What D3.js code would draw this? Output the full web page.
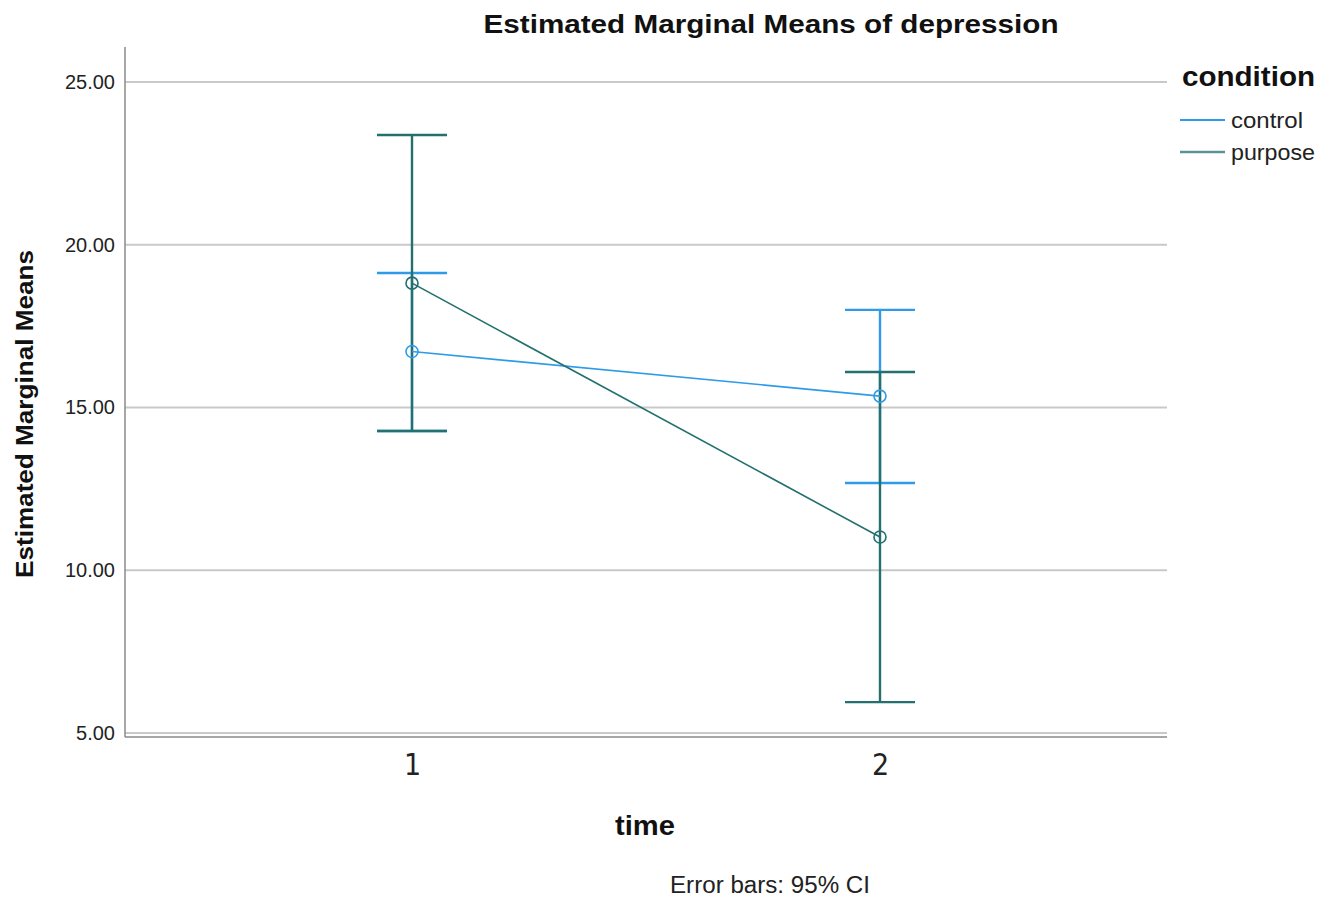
<!DOCTYPE html>
<html><head><meta charset="utf-8">
<script src="https://cdn.jsdelivr.net/npm/d3@7"></script>
<style>body{margin:0;background:#fff}svg{display:block}</style>
</head><body>
<svg id="c" width="1323" height="899"></svg>
<script>
const times = ["1", "2"];
const seriesNames = ["control", "purpose"];
const controlMean = [16.72, 15.35];
const controlLower = [14.28, 12.68];
const controlUpper = [19.13, 18.00];
const purposeMean = [18.82, 11.02];
const purposeLower = [14.28, 5.95];
const purposeUpper = [23.37, 16.09];
const yTicks = [5, 10, 15, 20, 25];
const colors = {control: "#2f9be8", purpose: "#23706f"};

const series = [
  {name: "control", mean: controlMean, lo: controlLower, hi: controlUpper},
  {name: "purpose", mean: purposeMean, lo: purposeLower, hi: purposeUpper}
];

const svg = d3.select("#c");
const L = 125, R = 1167, T = 47, B = 737;
const y = d3.scaleLinear().domain([5, 25]).range([733, 82]);
const x = d3.scalePoint().domain(times).range([412, 880]);
const font = "'Liberation Sans', Arial, sans-serif";

// gridlines
svg.append("g").selectAll("line").data(yTicks).join("line")
  .attr("x1", L).attr("x2", R).attr("y1", d => y(d)).attr("y2", d => y(d))
  .attr("stroke", "#c9c9c9").attr("stroke-width", 2);

// y axis
const yAxis = d3.axisLeft(y).tickValues(yTicks).tickFormat(d3.format(".2f")).tickSize(0).tickPadding(10);
const gy = svg.append("g").attr("transform", `translate(${L},0)`).call(yAxis);
gy.select(".domain").remove();
gy.selectAll("text").attr("font-family", font).attr("font-size", 20).attr("fill", "#222");
svg.append("line").attr("x1", L).attr("x2", L).attr("y1", T).attr("y2", B)
  .attr("stroke", "#8a8a8a").attr("stroke-width", 1.5);
// x axis
const xAxis = d3.axisBottom(x).tickSize(0).tickPadding(0);
const gx = svg.append("g").attr("transform", `translate(0,${B})`).call(xAxis);
gx.select(".domain").remove();
gx.selectAll("text").attr("font-family", "'Liberation Sans Narrow', 'DejaVu Sans Condensed', sans-serif")
  .attr("font-size", 30).attr("fill", "#222").attr("dy", null).attr("y", 38);
svg.append("line").attr("x1", L).attr("x2", R).attr("y1", B).attr("y2", B)
  .attr("stroke", "#8a8a8a").attr("stroke-width", 1.5);

// error bars
const cap = 35;
series.forEach(s => {
  const g = svg.append("g").attr("stroke", colors[s.name]).attr("fill", "none");
  times.forEach((t, i) => {
    g.append("line").attr("x1", x(t)).attr("x2", x(t)).attr("y1", y(s.lo[i])).attr("y2", y(s.hi[i])).attr("stroke-width", 2.4);
    [s.lo[i], s.hi[i]].forEach(v => {
      g.append("line").attr("x1", x(t) - cap).attr("x2", x(t) + cap).attr("y1", y(v)).attr("y2", y(v)).attr("stroke-width", 2.4);
    });
  });
});
// lines and points
series.forEach(s => {
  const line = d3.line().x((d, i) => x(times[i])).y(d => y(d));
  svg.append("path").datum(s.mean).attr("d", line).attr("fill", "none")
    .attr("stroke", colors[s.name]).attr("stroke-width", 1.6);
  svg.append("g").selectAll("circle").data(s.mean).join("circle")
    .attr("cx", (d, i) => x(times[i])).attr("cy", d => y(d)).attr("r", 6)
    .attr("fill", "none").attr("stroke", colors[s.name]).attr("stroke-width", 1.6);
});

// title
svg.append("text").attr("x", 771).attr("y", 33).attr("text-anchor", "middle")
  .attr("font-family", font).attr("font-weight", "bold").attr("font-size", 26).attr("fill", "#111")
  .attr("textLength", 575).attr("lengthAdjust", "spacingAndGlyphs")
  .text("Estimated Marginal Means of depression");
// y label
svg.append("text").attr("transform", "translate(33,414) rotate(-90)").attr("text-anchor", "middle")
  .attr("font-family", font).attr("font-weight", "bold").attr("font-size", 24).attr("fill", "#111")
  .attr("textLength", 328).attr("lengthAdjust", "spacingAndGlyphs")
  .text("Estimated Marginal Means");
// x label
svg.append("text").attr("x", 645).attr("y", 835).attr("text-anchor", "middle")
  .attr("font-family", font).attr("font-weight", "bold").attr("font-size", 27).attr("fill", "#111")
  .attr("textLength", 60).attr("lengthAdjust", "spacingAndGlyphs")
  .text("time");
svg.append("text").attr("x", 770).attr("y", 893).attr("text-anchor", "middle")
  .attr("font-family", font).attr("font-size", 23).attr("fill", "#222")
  .attr("textLength", 200).attr("lengthAdjust", "spacingAndGlyphs")
  .text("Error bars: 95% CI");

// legend
svg.append("text").attr("x", 1182).attr("y", 86)
  .attr("font-family", font).attr("font-weight", "bold").attr("font-size", 28).attr("fill", "#111")
  .attr("textLength", 133).attr("lengthAdjust", "spacingAndGlyphs")
  .text("condition");
const legendWidths = {control: 72, purpose: 84};
seriesNames.forEach((n, i) => {
  const yy = 120 + i * 32;
  svg.append("line").attr("x1", 1180).attr("x2", 1225).attr("y1", yy).attr("y2", yy)
    .attr("stroke", colors[n]).attr("stroke-width", n === "purpose" ? 2.5 : 1.8)
    .attr("opacity", n === "purpose" ? 0.75 : 1);
  svg.append("text").attr("x", 1231).attr("y", yy + 8)
    .attr("font-family", font).attr("font-size", 22).attr("fill", "#222")
    .attr("textLength", legendWidths[n]).attr("lengthAdjust", "spacingAndGlyphs").text(n);
});
</script>
</body></html>
